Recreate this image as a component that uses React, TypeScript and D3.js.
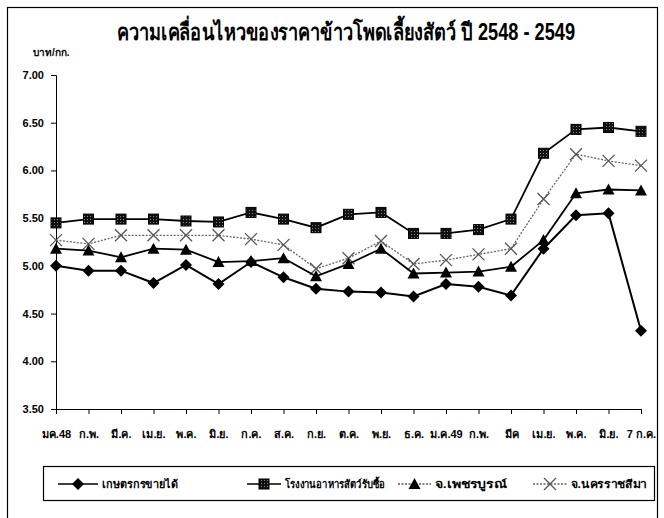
import { useEffect, useRef } from "react";
import * as d3 from "d3";

const months = [
  "มค.48", "ก.พ.", "มี.ค.", "เม.ย.", "พ.ค.", "มิ.ย.", "ก.ค.", "ส.ค.", "ก.ย.", "ต.ค.",
  "พ.ย.", "ธ.ค.", "ม.ค.49", "ก.พ.", "มีค", "เม.ย.", "พ.ค.", "มิ.ย.", "7 ก.ค.",
];

const farmer = [5.0, 4.95, 4.95, 4.82, 5.01, 4.81, 5.04, 4.88, 4.76, 4.73, 4.72, 4.68, 4.81, 4.78, 4.69, 5.18, 5.53, 5.55, 4.32];
const feedMill = [5.45, 5.49, 5.49, 5.49, 5.47, 5.46, 5.56, 5.49, 5.4, 5.54, 5.56, 5.34, 5.34, 5.38, 5.49, 6.18, 6.43, 6.45, 6.41];
const phetchabun = [5.18, 5.16, 5.09, 5.18, 5.17, 5.04, 5.05, 5.08, 4.89, 5.02, 5.18, 4.92, 4.93, 4.94, 4.99, 5.27, 5.76, 5.8, 5.79];
const korat = [5.27, 5.23, 5.32, 5.32, 5.32, 5.32, 5.28, 5.22, 4.97, 5.08, 5.26, 5.02, 5.06, 5.12, 5.18, 5.7, 6.17, 6.1, 6.05];

const yTicks = [3.5, 4.0, 4.5, 5.0, 5.5, 6.0, 6.5, 7.0];

const seriesNames = ["เกษตรกรขายได้", "โรงงานอาหารสัตว์รับซื้อ", "จ.เพชรบูรณ์", "จ.นครราชสีมา"];

const FONT = "'Liberation Sans', 'Noto Sans', 'DejaVu Sans', sans-serif";

type Marker = "diamond" | "square" | "triangle" | "cross";

export default function App() {
  const ref = useRef<SVGSVGElement | null>(null);

  useEffect(() => {
    if (!ref.current) return;
    const width = 664;
    const height = 518;

    const svg = d3.select(ref.current);
    svg.selectAll("*").remove();
    svg.attr("viewBox", `0 0 ${width} ${height}`);

    svg.append("rect").attr("width", width).attr("height", height).attr("fill", "#fff");

    // scanned frame
    svg
      .append("rect")
      .attr("x", 7.5)
      .attr("y", 7.5)
      .attr("width", 650)
      .attr("height", 530)
      .attr("fill", "none")
      .attr("stroke", "#000")
      .attr("stroke-width", 1.2);

    const x = d3
      .scalePoint<number>()
      .domain(months.map((_, i) => i))
      .range([56, 641]);
    const y = d3.scaleLinear().domain([3.5, 7]).range([409, 75]);

    svg
      .append("text")
      .attr("x", 346)
      .attr("y", 40)
      .attr("text-anchor", "middle")
      .attr("font-family", FONT)
      .attr("font-weight", "bold")
      .attr("font-size", 23)
      .attr("textLength", 458)
      .attr("lengthAdjust", "spacingAndGlyphs")
      .text("ความเคลื่อนไหวของราคาข้าวโพดเลี้ยงสัตว์ ปี 2548 - 2549");

    svg
      .append("text")
      .attr("x", 33)
      .attr("y", 56)
      .attr("font-family", FONT)
      .attr("font-weight", "bold")
      .attr("font-size", 10)
      .text("บาท/กก.");

    // y axis
    const yAxis = svg
      .append("g")
      .attr("transform", `translate(${x(0)},0)`)
      .call(d3.axisLeft(y).tickValues(yTicks).tickFormat(d3.format(".2f")).tickSize(5).tickPadding(7));
    yAxis.select(".domain").attr("stroke", "#000").attr("stroke-width", 1);
    yAxis
      .selectAll("text")
      .attr("font-family", FONT)
      .attr("font-size", 11)
      .attr("font-weight", "bold")
      .attr("fill", "#000");

    // x axis
    const xAxis = svg
      .append("g")
      .attr("transform", `translate(0,${y(3.5)})`)
      .call(
        d3
          .axisBottom(x)
          .tickFormat((i) => months[i as number])
          .tickSize(5)
          .tickSizeOuter(0)
          .tickPadding(16)
      );
    xAxis.select(".domain").attr("stroke", "#000").attr("stroke-width", 1.2);
    xAxis
      .selectAll("text")
      .attr("font-family", FONT)
      .attr("font-size", 11)
      .attr("font-weight", "bold")
      .attr("fill", "#000");

    const drawMarker = (g: d3.Selection<SVGGElement, unknown, null, undefined>, kind: Marker, cx: number, cy: number) => {
      if (kind === "diamond") {
        g.append("path")
          .attr("d", `M${cx},${cy - 6}L${cx + 6},${cy}L${cx},${cy + 6}L${cx - 6},${cy}Z`)
          .attr("fill", "#000");
      } else if (kind === "square") {
        g.append("rect")
          .attr("x", cx - 5)
          .attr("y", cy - 5)
          .attr("width", 10)
          .attr("height", 10)
          .attr("fill", "url(#check)")
          .attr("stroke", "#000")
          .attr("stroke-width", 1);
      } else if (kind === "triangle") {
        g.append("path")
          .attr("d", `M${cx},${cy - 6}L${cx + 6},${cy + 5}L${cx - 6},${cy + 5}Z`)
          .attr("fill", "#000");
      } else {
        g.append("path")
          .attr("d", `M${cx - 6},${cy - 6}L${cx + 6},${cy + 6}M${cx + 6},${cy - 6}L${cx - 6},${cy + 6}`)
          .attr("stroke", "#555")
          .attr("stroke-width", 1.3)
          .attr("fill", "none");
      }
    };

    const defs = svg.append("defs");
    const pat = defs
      .append("pattern")
      .attr("id", "check")
      .attr("width", 3)
      .attr("height", 3)
      .attr("patternUnits", "userSpaceOnUse");
    pat.append("rect").attr("width", 3).attr("height", 3).attr("fill", "#111");
    pat.append("rect").attr("width", 1).attr("height", 1).attr("fill", "#888");

    const series: { values: number[]; marker: Marker; stroke: string; width: number; dash: string | null }[] = [
      { values: korat, marker: "cross", stroke: "#666", width: 1.3, dash: "2,1.5" },
      { values: feedMill, marker: "square", stroke: "#000", width: 1.8, dash: null },
      { values: phetchabun, marker: "triangle", stroke: "#000", width: 1.8, dash: null },
      { values: farmer, marker: "diamond", stroke: "#000", width: 2, dash: null },
    ];

    const line = d3
      .line<number>()
      .x((_, i) => x(i) as number)
      .y((d) => y(d));

    series.forEach((s) => {
      const g = svg.append("g");
      g.append("path")
        .datum(s.values)
        .attr("fill", "none")
        .attr("stroke", s.stroke)
        .attr("stroke-width", s.width)
        .attr("stroke-dasharray", s.dash)
        .attr("d", line);
      s.values.forEach((v, i) => drawMarker(g, s.marker, x(i) as number, y(v)));
    });

    // legend
    const legend = svg.append("g");
    legend
      .append("rect")
      .attr("x", 43.5)
      .attr("y", 466.5)
      .attr("width", 611)
      .attr("height", 34)
      .attr("fill", "#fff")
      .attr("stroke", "#000")
      .attr("stroke-width", 1.2);

    const legendItems: { name: string; marker: Marker; x0: number; x1: number; tw: number; stroke: string; dash: string | null }[] = [
      { name: seriesNames[0], marker: "diamond", x0: 58, x1: 98, tw: 76, stroke: "#000", dash: null },
      { name: seriesNames[1], marker: "square", x0: 247, x1: 281, tw: 100, stroke: "#000", dash: null },
      { name: seriesNames[2], marker: "triangle", x0: 398, x1: 431, tw: 72, stroke: "#555", dash: "2,1.5" },
      { name: seriesNames[3], marker: "cross", x0: 533, x1: 567, tw: 76, stroke: "#666", dash: "2,1.5" },
    ];
    const ly = 484;
    legendItems.forEach((it) => {
      const g = legend.append("g");
      g.append("line")
        .attr("x1", it.x0)
        .attr("x2", it.x1)
        .attr("y1", ly)
        .attr("y2", ly)
        .attr("stroke", it.stroke)
        .attr("stroke-width", 1.6)
        .attr("stroke-dasharray", it.dash);
      drawMarker(g, it.marker, (it.x0 + it.x1) / 2, ly);
      g.append("text")
        .attr("x", it.x1 + 4)
        .attr("y", ly + 4)
        .attr("font-family", FONT)
        .attr("font-size", 11)
        .attr("font-weight", "bold")
        .attr("textLength", it.tw)
        .attr("lengthAdjust", "spacingAndGlyphs")
        .text(it.name);
    });
  }, []);

  return (
    <svg
      ref={ref}
      width={664}
      height={518}
      style={{ position: "absolute", left: 0, top: 0, display: "block" }}
      role="img"
      aria-label="ความเคลื่อนไหวของราคาข้าวโพดเลี้ยงสัตว์"
    />
  );
}
